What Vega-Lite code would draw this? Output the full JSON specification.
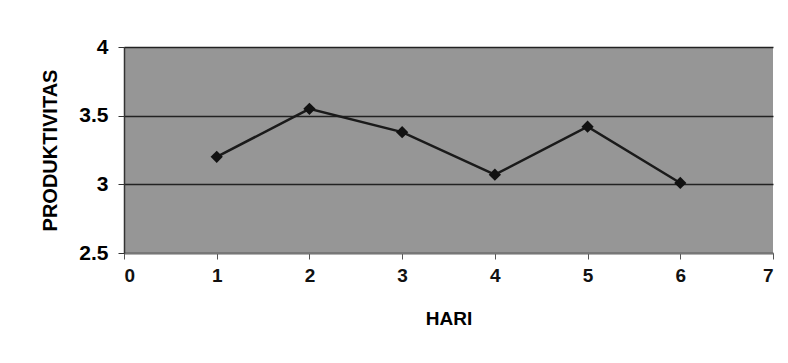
{
  "$schema": "https://vega.github.io/schema/vega-lite/v6.json",
  "width": 649,
  "height": 206,
  "autosize": {"type": "none"},
  "padding": {"left": 124, "top": 47, "right": 15, "bottom": 110},
  "background": "white",
  "config": {
    "view": {"fill": "#969696", "stroke": null},
    "font": "Liberation Sans"
  },
  "data": {
    "values": [
      {"HARI": 1, "PRODUKTIVITAS": 3.20},
      {"HARI": 2, "PRODUKTIVITAS": 3.55},
      {"HARI": 3, "PRODUKTIVITAS": 3.38},
      {"HARI": 4, "PRODUKTIVITAS": 3.07},
      {"HARI": 5, "PRODUKTIVITAS": 3.42},
      {"HARI": 6, "PRODUKTIVITAS": 3.01}
    ]
  },
  "encoding": {
    "x": {
      "field": "HARI",
      "type": "quantitative",
      "scale": {"domain": [0, 7], "nice": false, "zero": false},
      "axis": {
        "title": "HARI",
        "values": [0, 1, 2, 3, 4, 5, 6, 7],
        "format": "d",
        "grid": false,
        "domainColor": "#777777",
        "domainWidth": 1.5,
        "tickColor": "#555555",
        "tickSize": 6,
        "labelFontSize": 19,
        "labelFontWeight": "bold",
        "labelColor": "#111111",
        "labelPadding": 7,
        "titleFontSize": 19,
        "titleFontWeight": "bold",
        "titleColor": "#000000",
        "titlePadding": 24
      }
    },
    "y": {
      "field": "PRODUKTIVITAS",
      "type": "quantitative",
      "scale": {"domain": [2.5, 4], "nice": false, "zero": false},
      "axis": {
        "title": "PRODUKTIVITAS",
        "values": [2.5, 3, 3.5, 4],
        "format": "~g",
        "grid": true,
        "gridColor": "#222222",
        "gridWidth": 1.5,
        "gridOpacity": 1,
        "domainColor": "#333333",
        "domainWidth": 1.5,
        "tickColor": "#333333",
        "tickSize": 6,
        "labelFontSize": 21,
        "labelFontWeight": "bold",
        "labelColor": "#000000",
        "labelPadding": 10,
        "titleFontSize": 20,
        "titleFontWeight": "bold",
        "titleColor": "#000000",
        "titlePadding": 18
      }
    }
  },
  "layer": [
    {"mark": {"type": "line", "color": "#1a1a1a", "strokeWidth": 2.5}},
    {"mark": {"type": "point", "shape": "diamond", "filled": true, "color": "#111111", "size": 150, "opacity": 1}}
  ]
}
